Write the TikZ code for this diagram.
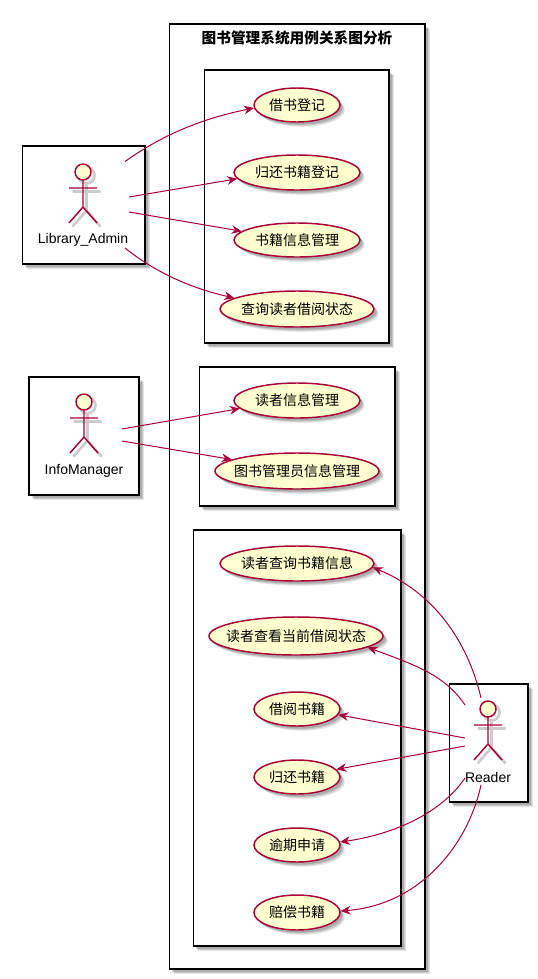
\documentclass[tikz,border=0pt]{standalone}
\usepackage{fontspec}
\setmainfont{Liberation Sans}
\newfontfamily\cjk{Noto Sans CJK SC}
\usetikzlibrary{arrows.meta,shapes.geometric,shadows}
\definecolor{umlred}{HTML}{A80036}
\definecolor{umlfill}{HTML}{FEFECE}
\tikzset{
  softshadow/.style={
    general shadow={shadow xshift=3.6pt,shadow yshift=-3.6pt,fill=black,opacity=0.10},
    general shadow={shadow xshift=2.8pt,shadow yshift=-2.8pt,fill=black,opacity=0.12},
    general shadow={shadow xshift=2pt,shadow yshift=-2pt,fill=black,opacity=0.14}},
  sysbox/.style={draw=black,fill=white,line width=1.1pt,rectangle,inner sep=0pt,softshadow},
  usecase/.style={ellipse,draw=umlred,fill=umlfill,line width=1.1pt,inner xsep=-15pt,inner ysep=0pt,softshadow,
    font=\cjk\fontsize{10.5}{12}\selectfont},
  actorname/.style={font=\fontsize{10.5}{12}\selectfont,text=black},
  assoc/.style={draw=umlred,line width=0.75pt,-{Stealth[length=7.5pt,width=6.5pt,inset=2.5pt]}},
  actorfig/.pic={
    % shadow first, then the figure
    \draw[gray!40,line width=2pt] (3.5,3.5) circle (8);
    \draw[gray!40,line width=2pt] (3.5,11.5) -- (3.5,38.5) (-10.5,19.5) -- (17.5,19.5)
      (-10.5,54.5) -- (3.5,38.5) -- (17.5,54.5);
    \draw[umlred,line width=1.1pt,fill=umlfill] (0,0) circle (8);
    \draw[umlred,line width=1.1pt] (0,8) -- (0,35) (-14,16) -- (14,16)
      (-14,51) -- (0,35) -- (14,51);
  }
}
\begin{document}
\begin{tikzpicture}[x=0.75pt,y=-0.75pt]
\useasboundingbox (0,0) rectangle (538,979);

% System frame and the three groups
\node[sysbox,minimum width=191.6pt,minimum height=708.75pt] (system) at (297.25,496.5) {};
\node[font=\cjk\bfseries\fontsize{11}{13}\selectfont] (title) at (297,37.5) {图书管理系统用例关系图分析};
\node[sysbox,minimum width=138.4pt,minimum height=204.75pt] (groupA) at (296.75,206.5) {};
\node[sysbox,minimum width=146.6pt,minimum height=104.25pt] (groupB) at (297.25,436.5) {};
\node[sysbox,minimum width=155.6pt,minimum height=312pt] (groupC) at (297.25,738) {};

% Actor boxes
\node[sysbox,minimum width=91.9pt,minimum height=88.5pt] (adminbox) at (83.75,205) {};
\node[sysbox,minimum width=82.5pt,minimum height=88.5pt] (infobox) at (84,436) {};
\node[sysbox,minimum width=58.9pt,minimum height=88.5pt] (readerbox) at (488.75,743) {};

% Actors
\pic at (83,172) {actorfig};
\node[actorname] (admin) at (83,240) {Library\_Admin};
\pic at (84,402) {actorfig};
\node[actorname] (info) at (84,471) {InfoManager};
\pic at (488,709) {actorfig};
\node[actorname] (reader) at (488,777) {Reader};

% Use cases
\node[usecase,minimum width=64.5pt,minimum height=25.5pt] (ucA) at (297,105) {借书登记};
\node[usecase,minimum width=94.5pt,minimum height=26.25pt] (ucB) at (297,172.5) {归还书籍登记};
\node[usecase,minimum width=94.5pt,minimum height=25.5pt] (ucC) at (297,240) {书籍信息管理};
\node[usecase,minimum width=115.5pt,minimum height=27pt] (ucD) at (297,309) {查询读者借阅状态};
\node[usecase,minimum width=94.5pt,minimum height=26.25pt] (ucE) at (297,400.5) {读者信息管理};
\node[usecase,minimum width=123pt,minimum height=27pt] (ucF) at (297,471) {图书管理员信息管理};
\node[usecase,minimum width=115.5pt,minimum height=26.25pt] (ucG) at (297,563.5) {读者查询书籍信息};
\node[usecase,minimum width=130.5pt,minimum height=28.5pt] (ucH) at (296,636) {读者查看当前借阅状态};
\node[usecase,minimum width=64.5pt,minimum height=25.5pt] (ucI) at (297,709) {借阅书籍};
\node[usecase,minimum width=64.5pt,minimum height=25.5pt] (ucJ) at (297,777) {归还书籍};
\node[usecase,minimum width=64.5pt,minimum height=25.5pt] (ucK) at (297,845) {逾期申请};
\node[usecase,minimum width=64.5pt,minimum height=26.25pt] (ucL) at (297,912.5) {赔偿书籍};

% Free ends of the connectors, round each actor
\coordinate (adminA) at (125,161.5);
\coordinate (adminB) at (129,197);
\coordinate (adminC) at (129,212);
\coordinate (adminD) at (125,248);
\coordinate (infoA) at (122,429);
\coordinate (infoB) at (122,441);
\coordinate (readerA) at (481,698);
\coordinate (readerB) at (465,705);
\coordinate (readerC) at (465,738);
\coordinate (readerD) at (465,746);
\coordinate (readerE) at (465,778);
\coordinate (readerF) at (481,785);

% Library_Admin
\draw[assoc] (adminA) .. controls (165,133) and (205,118) .. (ucA.184);
\draw[assoc] (adminB) -- (ucB.186);
\draw[assoc] (adminC) -- (ucC.171);
\draw[assoc] (adminD) .. controls (155,272) and (190,288) .. (ucD.170);

% InfoManager
\draw[assoc] (infoA) -- (ucE.188);
\draw[assoc] (infoB) -- (ucF.170);

% Reader
\draw[assoc] (readerA) .. controls (470,650) and (440,595) .. (ucG.357);
\draw[assoc] (readerB) .. controls (445,675) and (415,665) .. (ucH.351);
\draw[assoc] (readerC) -- (ucI.352);
\draw[assoc] (readerD) -- (ucJ.11);
\draw[assoc] (readerE) .. controls (440,815) and (390,835) .. (ucK.4);
\draw[assoc] (readerF) .. controls (468,845) and (420,905) .. (ucL.2);
\end{tikzpicture}
\end{document}
